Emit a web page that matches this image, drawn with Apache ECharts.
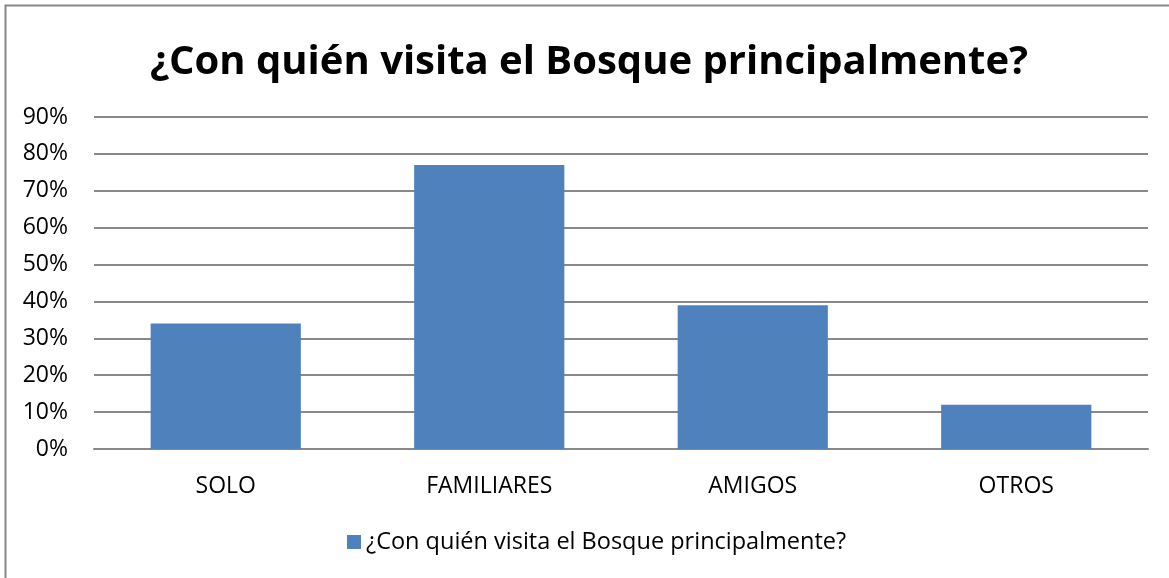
<!DOCTYPE html>
<html>
<head>
<meta charset="utf-8">
<script src="https://cdn.jsdelivr.net/npm/echarts@6/dist/echarts.min.js"></script>
<style>
  html, body { margin: 0; padding: 0; background: #fff; }
  #main { width: 1169px; height: 578px; }
</style>
</head>
<body>
<div id="main"></div>
<script>
const TITLE = '¿Con quién visita el Bosque principalmente?';
const CATEGORIES = ['SOLO', 'FAMILIARES', 'AMIGOS', 'OTROS'];
const VALUES = [34, 77, 39, 12];
const Y_MAX = 90;
const Y_STEP = 10;

var chartDom = document.getElementById('main');
var myChart = echarts.init(chartDom, null, { renderer: 'canvas' });
const FONT = '"Open Sans", "Noto Sans", sans-serif';

let option = {
  backgroundColor: '#ffffff',
  animation: false,
  graphic: [{
    type: 'rect',
    shape: { x: 5.5, y: 5.5, width: 1200, height: 600 },
    style: { fill: 'none', stroke: '#878787', lineWidth: 2 },
    silent: true
  }],
  title: {
    text: TITLE,
    left: 145,
    top: 38,
    textStyle: {
      color: '#000',
      fontSize: 40,
      fontWeight: 'bold',
      fontFamily: FONT
    }
  },
  grid: {
    left: 94,
    right: 21,
    top: 117,
    bottom: 129
  },
  legend: {
    bottom: 19,
    left: 342,
    itemWidth: 14,
    itemHeight: 14,
    itemGap: 6,
    icon: 'rect',
    textStyle: { color: '#000', fontSize: 23.5, fontFamily: FONT },
    data: [TITLE]
  },
  xAxis: {
    type: 'category',
    data: CATEGORIES,
    axisLine: { show: true, lineStyle: { color: '#898989', width: 2 } },
    axisTick: { show: false },
    axisLabel: { color: '#000', fontSize: 23, fontFamily: FONT, margin: 26 }
  },
  yAxis: {
    type: 'value',
    min: 0,
    max: Y_MAX,
    interval: Y_STEP,
    axisLine: { show: false },
    axisTick: { show: false },
    axisLabel: {
      color: '#000',
      fontSize: 23,
      fontFamily: FONT,
      margin: 26,
      formatter: '{value}%'
    },
    splitLine: { lineStyle: { color: '#898989', width: 2 } }
  },
  series: [{
    name: TITLE,
    type: 'bar',
    barWidth: '57%',
    itemStyle: { color: '#4F81BD' },
    data: VALUES
  }]
};
option && myChart.setOption(option);
</script>
</body>
</html>
